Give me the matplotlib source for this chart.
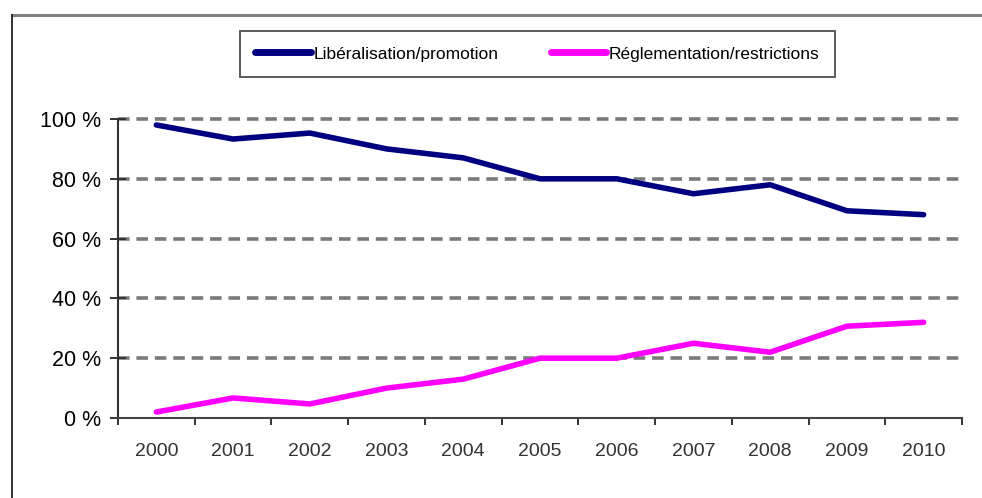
import matplotlib
matplotlib.use("Agg")
import matplotlib.pyplot as plt
from matplotlib.lines import Line2D
import numpy as np

years = ["2000", "2001", "2002", "2003", "2004", "2005", "2006", "2007", "2008", "2009", "2010"]
liberalisation = [98, 93.3, 95.3, 90, 87, 80, 80, 75, 78, 69.3, 68]
reglementation = [2, 6.7, 4.7, 10, 13, 20, 20, 25, 22, 30.7, 32]
y_ticks = [0, 20, 40, 60, 80, 100]
y_labels = ["0 %", "20 %", "40 %", "60 %", "80 %", "100 %"]
series_names = ["Libéralisation/promotion", "Réglementation/restrictions"]

W, H = 982, 498
fig = plt.figure(figsize=(W / 100, H / 100), dpi=100)
fig.patch.set_facecolor("white")

ax = fig.add_axes([118 / W, 1 - 418 / H, (962 - 118) / W, (418 - 119) / H])

x = np.arange(len(years))
ax.plot(x, liberalisation, color="#000080", lw=4, solid_capstyle="round",
        solid_joinstyle="round", zorder=3)
ax.plot(x, reglementation, color="#FF00FF", lw=4, solid_capstyle="round",
        solid_joinstyle="round", zorder=3)

ax.set_xlim(-0.5, len(years) - 0.5)
ax.set_ylim(0, 100)

for v in y_ticks[1:]:
    ax.axhline(v, color="#7a7a7a", lw=2.6, ls=(0, (3.2, 1.9)), zorder=1, clip_on=False)

ax.set_yticks(y_ticks)
ax.set_yticklabels(y_labels, fontsize=15.5, family=["Liberation Sans", "DejaVu Sans"], color="black")
ax.set_xticks(x)
ax.set_xticklabels(years, fontsize=14, family=["Liberation Sans", "DejaVu Sans"], color="#333333")
ax.set_xticks(np.arange(-0.5, len(years)), minor=True)
ax.tick_params(axis="x", which="major", length=0, pad=18)
ax.tick_params(axis="x", which="minor", length=5, width=1.4, color="#333333", direction="out")
ax.tick_params(axis="y", which="major", length=11, width=1.4, color="#333333", direction="inout", pad=7)

for s in ["top", "right"]:
    ax.spines[s].set_visible(False)
ax.spines["left"].set_color("#333333")
ax.spines["left"].set_linewidth(1.5)
ax.spines["bottom"].set_color("#444444")
ax.spines["bottom"].set_linewidth(1.5)

# outer frame
fig.add_artist(Line2D([12 / W, 1], [1 - 15 / H, 1 - 15 / H], transform=fig.transFigure,
                      color="#808080", lw=2.2))
fig.add_artist(Line2D([12 / W, 12 / W], [0, 1 - 15 / H], transform=fig.transFigure,
                      color="#222222", lw=1.3))

handles = [Line2D([], [], color="#000080", lw=5, solid_capstyle="round"),
           Line2D([], [], color="#FF00FF", lw=5, solid_capstyle="round")]
leg = fig.legend(handles, series_names, loc="center", ncol=2,
                 bbox_to_anchor=(537.5 / W, 1 - 54 / H),
                 prop={"family": ["Liberation Sans", "DejaVu Sans"], "size": 12.5},
                 frameon=True, fancybox=False, edgecolor="#222222",
                 handlelength=3.2, handletextpad=0.15, columnspacing=3.0,
                 borderpad=0.9, borderaxespad=0)
leg.get_frame().set_linewidth(1.3)

fig.savefig("out.png", dpi=100, facecolor="white")
